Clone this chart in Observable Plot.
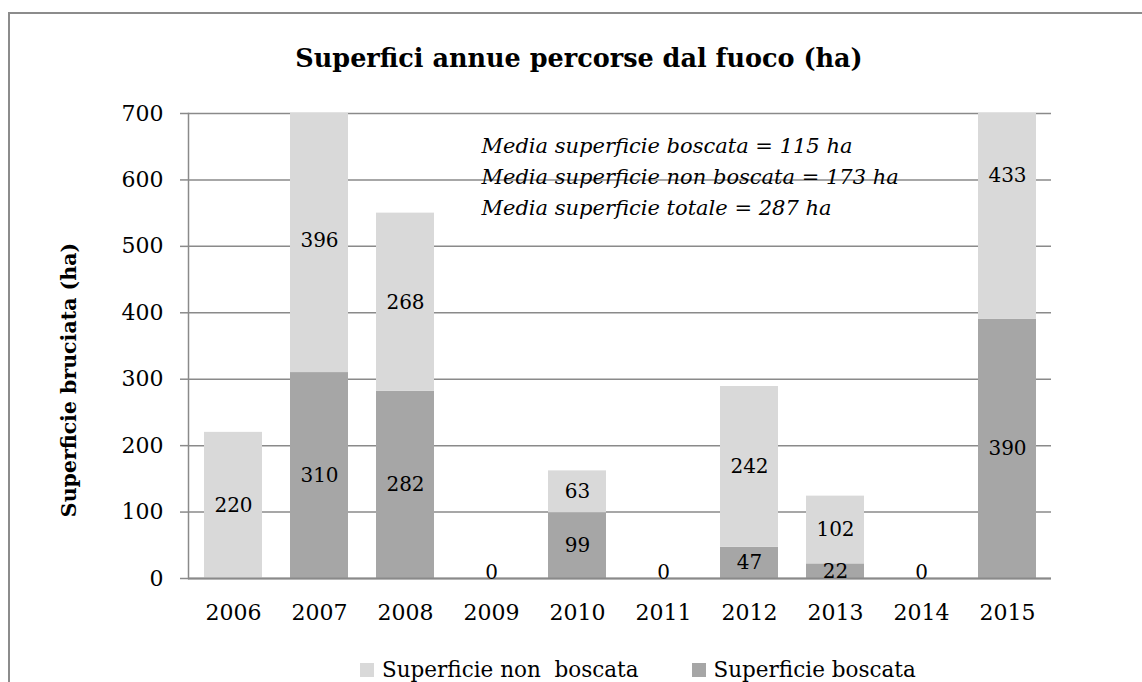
<!DOCTYPE html>
<html><head><meta charset="utf-8">
<script src="https://cdn.jsdelivr.net/npm/d3@7"></script>
<script src="https://cdn.jsdelivr.net/npm/@observablehq/plot@0.6"></script>
<style>
body{margin:0;background:#fff;}
#wrap{position:relative;width:1142px;height:682px;overflow:hidden;font-family:"DejaVu Serif",serif;color:#000;}
#border{position:absolute;left:8px;top:12px;width:1300px;height:900px;border-left:2px solid #8c8c8c;border-top:2px solid #8c8c8c;}
#title{position:absolute;left:0;width:1158px;top:40px;text-align:center;font-weight:bold;font-size:25.5px;line-height:36px;}
#chart{position:absolute;left:0;top:90px;}
#legend{position:absolute;left:360px;top:653px;}
.lg-swatches{font-family:"DejaVu Serif",serif !important;font-size:21.5px !important;margin:0 !important;color:#000;}
.lg-swatch{margin-right:53px !important;white-space:pre;line-height:24px;}
.lg-swatch > svg{margin-right:8px !important;}
</style>
</head><body>
<div id="wrap">
  <div id="border"></div>
  <div id="title"></div>
  <div id="chart"></div>
  <div id="legend"></div>
</div>
<script>
const titleText = "Superfici annue percorse dal fuoco (ha)";
const yLabel = "Superficie bruciata (ha)";
const years = ["2006","2007","2008","2009","2010","2011","2012","2013","2014","2015"];
const boscata = [null, 310, 282, 0, 99, 0, 47, 22, 0, 390];
const nonBoscata = [220, 396, 268, 0, 63, 0, 242, 102, 0, 433];
const seriesNames = ["Superficie non  boscata", "Superficie boscata"];
const seriesColors = ["#d9d9d9", "#a6a6a6"];
const yTicks = [0, 100, 200, 300, 400, 500, 600, 700];
const notes = [
  "Media superficie boscata = 115 ha",
  "Media superficie non boscata = 173 ha",
  "Media superficie totale = 287 ha"
];

document.getElementById("title").textContent = titleText;

const rows = [];
years.forEach((yr, i) => rows.push({year: yr, series: seriesNames[1], value: boscata[i]}));
years.forEach((yr, i) => rows.push({year: yr, series: seriesNames[0], value: nonBoscata[i]}));

const labelRows = [];
const zeroRows = [];
years.forEach((yr, i) => {
  const b = boscata[i] ?? 0;
  const n = nonBoscata[i] ?? 0;
  if (boscata[i] != null && boscata[i] > 0) labelRows.push({year: yr, mid: b / 2, text: String(boscata[i])});
  if (n > 0) labelRows.push({year: yr, mid: b + n / 2, text: String(n)});
  if (b + n === 0) zeroRows.push({year: yr, base: 0, text: "0"});
});

const chart = Plot.plot({
  width: 1142,
  height: 550,
  marginTop: 23,
  marginBottom: 62,
  marginLeft: 188,
  marginRight: 91,
  style: {fontFamily: "DejaVu Serif", fontSize: "22px", color: "#000", background: "transparent", overflow: "visible"},
  x: {type: "band", domain: years, paddingInner: 0.328, paddingOuter: 0.164, label: null},
  y: {domain: [0, 700], label: null},
  color: {domain: seriesNames, range: seriesColors},
  marks: [
    Plot.gridY(yTicks, {stroke: "#8a8a8a", strokeOpacity: 1, strokeWidth: 1.5}),
    Plot.barY(rows, {x: "year", y: "value", fill: "series", clip: true}),
    Plot.ruleY([0], {stroke: "#8a8a8a", strokeWidth: 2}),
    Plot.frame({anchor: "left", stroke: "#8a8a8a", strokeWidth: 1.5}),
    Plot.axisY(yTicks, {tickSize: 8, tickPadding: 17, stroke: "#8a8a8a", strokeWidth: 1.5, label: null, fontSize: 22}),
    Plot.axisX({tickSize: 0, tickPadding: 26, label: null, fontSize: 22}),
    Plot.text(labelRows, {x: "year", y: "mid", text: "text", fontSize: 20, fill: "#000"}),
    Plot.text(zeroRows, {x: "year", y: "base", text: "text", lineAnchor: "bottom", fontSize: 20, fill: "#000"}),
    Plot.text([yLabel], {frameAnchor: "left", textAnchor: "middle", dx: -119, dy: 34, rotate: -90, fontWeight: "bold", fontSize: 20.5, fill: "#000"}),
    Plot.text([notes.join("\n")], {frameAnchor: "top-left", textAnchor: "start", lineAnchor: "top", dx: 293, dy: 17, fontStyle: "italic", fontSize: 21, lineHeight: 1.48, fill: "#000"})
  ]
});
document.getElementById("chart").appendChild(chart);

const legend = Plot.legend({
  color: {domain: seriesNames, range: seriesColors},
  legend: "swatches",
  swatchSize: 14,
  className: "lg"
});
document.getElementById("legend").appendChild(legend);
</script>
</body></html>
